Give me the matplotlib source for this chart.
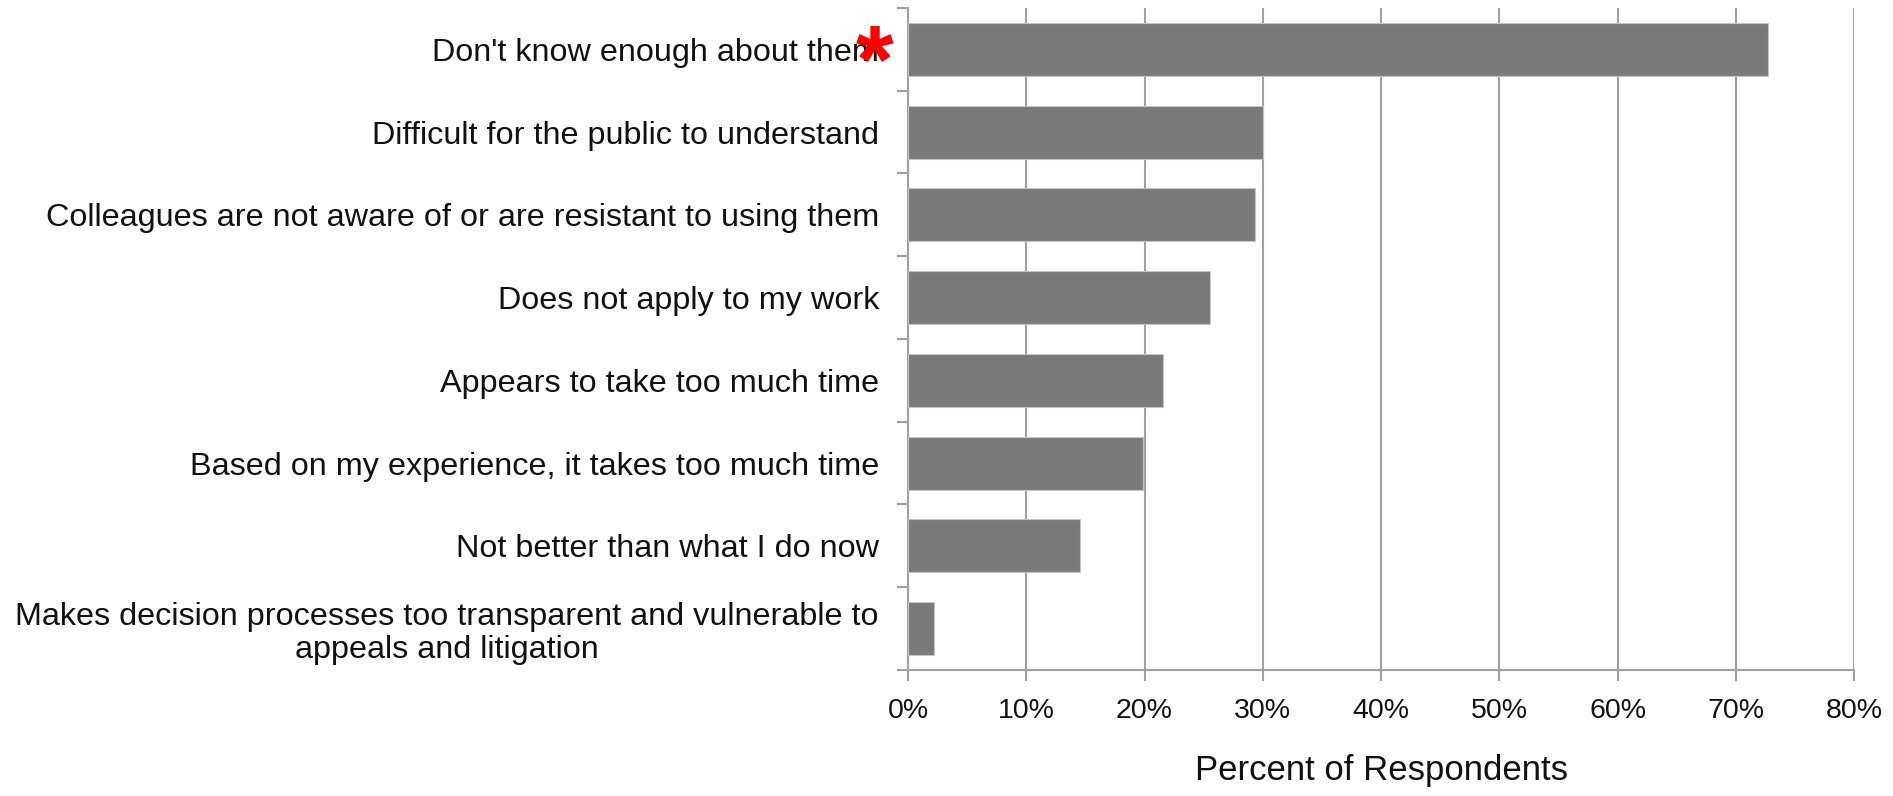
import matplotlib.pyplot as plt
import numpy as np

# ---------------- DATA ---------------- #

reasons = [
    "Don't know enough about them",
    "Difficult for the public to understand",
    "Colleagues are not aware of or are resistant to using them",
    "Does not apply to my work",
    "Appears to take too much time",
    "Based on my experience, it takes too much time",
    "Not better than what I do now",
    "Makes decision processes too transparent and vulnerable to\nappeals and litigation",
]
pct = [72.7, 30.0, 29.3, 25.5, 21.6, 19.9, 14.5, 2.2]
xticks = [0, 10, 20, 30, 40, 50, 60, 70, 80]

# ---------------- DRAW ---------------- #

plt.rcParams['font.family'] = ['Liberation Sans', 'DejaVu Sans']

fig = plt.figure(figsize=(18.93, 7.96), dpi=100)
ax = fig.add_axes([0.4797, 0.1583, 0.4997, 0.8317])

y = np.arange(len(reasons))
ax.barh(y, pct, height=0.64, color="#7a7a7a", edgecolor="#c4c4c4", linewidth=0.8, zorder=3)

ax.set_xlim(0, 80)
ax.set_ylim(len(reasons) - 0.5, -0.5)

ax.set_xticks(xticks)
ax.set_xticklabels([f"{v}%" for v in xticks])
ax.grid(axis="x", color="#a0a0a0", linewidth=1.5, zorder=0)

ax.set_yticks(y)
ax.set_yticklabels(reasons, multialignment="center", linespacing=1.13)
ax.set_yticks(np.arange(len(reasons) + 1) - 0.5, minor=True)

ax.tick_params(axis="y", which="major", length=0, pad=21, labelsize=23.3, labelcolor="#111111")
ax.tick_params(axis="y", which="minor", length=8, width=1.5, color="#a0a0a0", direction="out")
ax.tick_params(axis="x", length=8, width=1.5, color="#a0a0a0", pad=12, labelsize=20.5, labelcolor="#111111")

for s in ["top", "right"]:
    ax.spines[s].set_visible(False)
for s in ["left", "bottom"]:
    ax.spines[s].set_color("#a0a0a0")
    ax.spines[s].set_linewidth(1.5)

ax.set_xlabel("Percent of Respondents", fontsize=25, color="#111111", labelpad=22)

# red asterisk on the first label
ax.annotate("*", xy=(0, 0), xycoords=("axes fraction", "data"),
            xytext=(-33, -18), textcoords="offset pixels",
            ha="center", va="center", color="red", fontsize=70, fontweight="bold")

fig.savefig("out.png", dpi=100)
